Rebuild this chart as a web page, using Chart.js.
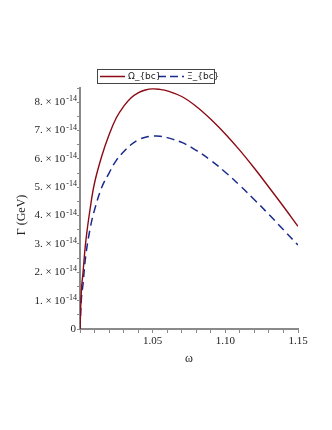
<!DOCTYPE html>
<html>
<head>
<meta charset="utf-8">
<script src="https://cdn.jsdelivr.net/npm/chart.js@4"></script>
<style>
  html, body { margin: 0; padding: 0; background: #fff; }
  #wrap { width: 332px; height: 430px; }
</style>
</head>
<body>
<div id="wrap"><canvas id="rateChart" width="332" height="430"></canvas></div>
<script>
// Data (Γ in units of 1e-14 GeV)
const omega = [1.000, 1.001, 1.002, 1.004, 1.007, 1.010, 1.015, 1.020, 1.025, 1.030, 1.035, 1.040, 1.045,
               1.050, 1.055, 1.060, 1.070, 1.080, 1.090, 1.100, 1.110, 1.120, 1.130, 1.140, 1.150];
const gammaOmegaBc = [0, 1.40, 1.95, 3.10, 4.25, 5.15, 6.10, 6.85, 7.45, 7.85, 8.15, 8.33, 8.43,
                      8.47, 8.45, 8.40, 8.20, 7.85, 7.40, 6.88, 6.30, 5.67, 5.00, 4.32, 3.62];
const gammaXiBc = [0, 1.10, 1.55, 2.60, 3.55, 4.20, 5.00, 5.50, 5.95, 6.25, 6.50, 6.67, 6.76,
                   6.80, 6.80, 6.75, 6.58, 6.30, 5.95, 5.53, 5.06, 4.56, 4.04, 3.50, 2.96];
const seriesLabels = ['Ω_{bc}', 'Ξ_{bc}'];
const xTickLabels = [1.05, 1.10, 1.15];
const yTickLabels = [1, 2, 3, 4, 5, 6, 7, 8];

const RED = '#8c0a14';
const BLUE = '#1a2a8c';
const AXIS = '#8a8a8a';
const SERIF = '"Liberation Serif", "DejaVu Serif", serif';

function toPoints(ys) {
    return omega.map((x, i) => ({ x: x, y: ys[i] }));
}

// Draws legend box, axis titles and the "n. × 10^-14" labels
const decorPlugin = {
    id: 'decor',
    afterDraw(chart) {
        const ctx = chart.ctx;
        const ys = chart.scales.y;
        ctx.save();

        // y tick labels
        ctx.fillStyle = '#222';
        ctx.textBaseline = 'middle';
        yTickLabels.forEach(v => {
            const py = ys.getPixelForValue(v);
            ctx.font = '8px ' + SERIF;
            ctx.textAlign = 'right';
            const exp = '-14';
            ctx.fillText(exp, 77, py - 3);
            const ew = ctx.measureText(exp).width;
            ctx.font = '11px ' + SERIF;
            ctx.fillText(v + '. × 10', 77 - ew - 1, py);
        });
        ctx.font = '11px ' + SERIF;
        ctx.textAlign = 'right';
        ctx.fillText('0', 76, ys.getPixelForValue(0));

        // axis titles
        ctx.font = '12px ' + SERIF;
        ctx.textAlign = 'center';
        ctx.fillText('ω', 189, 359);
        ctx.save();
        ctx.translate(22, 215);
        ctx.rotate(-Math.PI / 2);
        ctx.fillText('Γ (GeV)', 0, 0);
        ctx.restore();

        // legend
        ctx.strokeStyle = '#444';
        ctx.lineWidth = 1;
        ctx.strokeRect(97.5, 69.5, 117, 14);
        ctx.lineWidth = 1.5;
        ctx.strokeStyle = RED;
        ctx.beginPath(); ctx.moveTo(100, 76.5); ctx.lineTo(125, 76.5); ctx.stroke();
        ctx.strokeStyle = BLUE;
        ctx.setLineDash([8, 4]);
        ctx.beginPath(); ctx.moveTo(158, 76.5); ctx.lineTo(184, 76.5); ctx.stroke();
        ctx.setLineDash([]);
        ctx.font = '9px "DejaVu Sans", sans-serif';
        ctx.textAlign = 'left';
        ctx.fillStyle = '#222';
        ctx.fillText(seriesLabels[0], 128, 77);
        ctx.fillText(seriesLabels[1], 187, 77);

        ctx.restore();
    }
};

const ctx = document.getElementById('rateChart').getContext('2d');
const chart = new Chart(ctx, {
    type: 'line',
    data: {
        datasets: [
            {
                label: seriesLabels[0],
                data: toPoints(gammaOmegaBc),
                borderColor: RED,
                borderWidth: 1.4,
                pointRadius: 0,
                tension: 0.4,
                fill: false
            },
            {
                label: seriesLabels[1],
                data: toPoints(gammaXiBc),
                borderColor: BLUE,
                borderWidth: 1.5,
                borderDash: [8, 5],
                pointRadius: 0,
                tension: 0.4,
                fill: false
            }
        ]
    },
    options: {
        responsive: false,
        animation: false,
        layout: { padding: { left: 0, right: 34, top: 88, bottom: 0 } },
        plugins: {
            legend: { display: false },
            tooltip: { enabled: false }
        },
        scales: {
            x: {
                type: 'linear',
                min: 1.0,
                max: 1.15,
                border: { color: AXIS, width: 2 },
                grid: { drawOnChartArea: false, color: AXIS, tickLength: 4 },
                ticks: {
                    stepSize: 0.01,
                    autoSkip: false,
                    maxRotation: 0,
                    color: '#222',
                    padding: 2,
                    font: { family: SERIF, size: 11 },
                    callback: (value) => {
                        const hit = xTickLabels.find(t => Math.abs(t - value) < 1e-6);
                        return hit ? hit.toFixed(2) : '';
                    }
                },
                afterFit: (scale) => { scale.height = 101; }
            },
            y: {
                min: 0,
                max: 8.5,
                border: { color: AXIS, width: 2 },
                grid: { drawOnChartArea: false, color: AXIS, tickLength: 3 },
                ticks: {
                    stepSize: 0.5,
                    autoSkip: false,
                    callback: () => ''
                },
                afterFit: (scale) => { scale.width = 80; }
            }
        }
    },
    plugins: [decorPlugin]
});
</script>
</body>
</html>
